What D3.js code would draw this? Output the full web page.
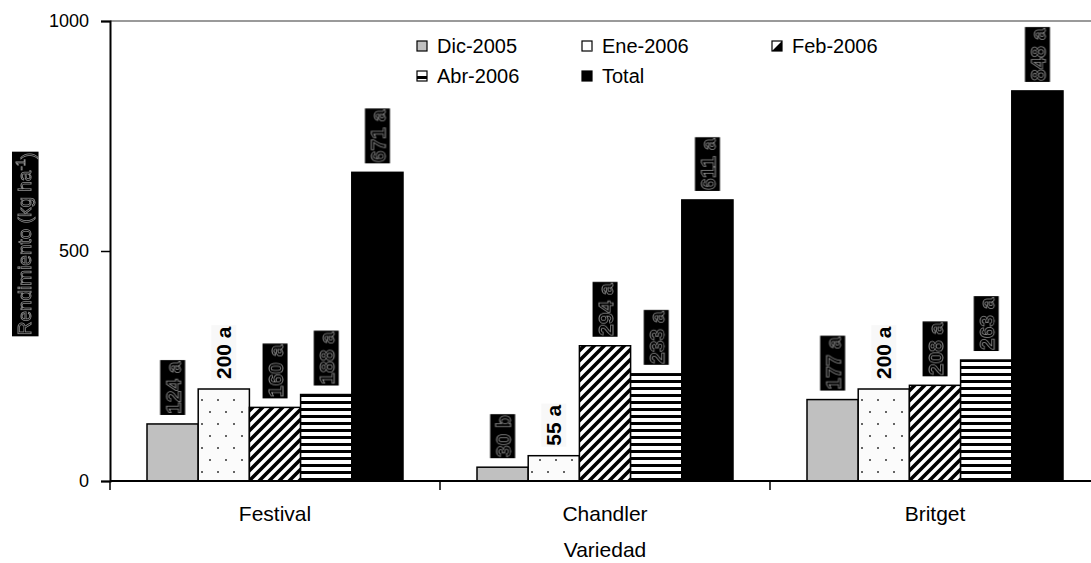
<!DOCTYPE html>
<html>
<head>
<meta charset="utf-8">
<script src="https://cdn.jsdelivr.net/npm/d3@7"></script>
<style>
  html, body { margin: 0; padding: 0; background: #fff; }
  svg { display: block; }
  text { font-family: "Liberation Sans", Arial, sans-serif; }
</style>
</head>
<body>
<svg id="chart" width="1091" height="563"></svg>
<script>
// Yield per variety and harvest month
const varieties = ["Festival", "Chandler", "Britget"];
const seriesNames = ["Dic-2005", "Ene-2006", "Feb-2006", "Abr-2006", "Total"];
const dic2005 = [124, 30, 177];
const ene2006 = [200, 55, 200];
const feb2006 = [160, 294, 208];
const abr2006 = [188, 233, 263];
const total = [671, 611, 848];
const dic2005Letters = ["a", "b", "a"];
const ene2006Letters = ["a", "a", "a"];
const feb2006Letters = ["a", "a", "a"];
const abr2006Letters = ["a", "a", "a"];
const totalLetters = ["a", "a", "a"];
const yTicks = [0, 500, 1000];

const seriesValues = [dic2005, ene2006, feb2006, abr2006, total];
const seriesLetters = [dic2005Letters, ene2006Letters, feb2006Letters, abr2006Letters, totalLetters];
const plainLabelSeries = ["Ene-2006"];

const svg = d3.select("#chart");
const defs = svg.append("defs");

// Greyscale filter for outlined labels
defs.append("filter").attr("id", "grey")
  .append("feColorMatrix").attr("type", "saturate").attr("values", 0);

// Fill patterns
const dots = defs.append("pattern").attr("id", "p-dots")
  .attr("patternUnits", "userSpaceOnUse").attr("width", 16).attr("height", 24);
dots.append("rect").attr("width", 16).attr("height", 24).attr("fill", "#fbfbfb");
dots.append("circle").attr("cx", 4).attr("cy", 4).attr("r", 1).attr("fill", "#333");
dots.append("circle").attr("cx", 12).attr("cy", 16).attr("r", 1).attr("fill", "#333");

const diag = defs.append("pattern").attr("id", "p-diag")
  .attr("patternUnits", "userSpaceOnUse").attr("width", 10).attr("height", 10);
diag.append("rect").attr("width", 10).attr("height", 10).attr("fill", "#fff");
diag.append("path")
  .attr("d", "M-2.5,2.5 L2.5,-2.5 M0,10 L10,0 M7.5,12.5 L12.5,7.5")
  .attr("stroke", "#000").attr("stroke-width", 3.6);

const horiz = defs.append("pattern").attr("id", "p-horiz")
  .attr("patternUnits", "userSpaceOnUse").attr("width", 8).attr("height", 7);
horiz.append("rect").attr("width", 8).attr("height", 7).attr("fill", "#fff");
horiz.append("rect").attr("y", 2).attr("width", 8).attr("height", 3).attr("fill", "#000");

const fills = {
  "Dic-2005": "#c0c0c0",
  "Ene-2006": "url(#p-dots)",
  "Feb-2006": "url(#p-diag)",
  "Abr-2006": "url(#p-horiz)",
  "Total": "#000"
};

const plotLeft = 110, plotRight = 1100, plotTop = 21, plotBottom = 481;

const x0 = d3.scaleBand().domain(varieties).range([plotLeft, plotRight]).padding(0);
const x1 = d3.scaleBand().domain(seriesNames)
  .range([37, x0.bandwidth() - 37]).padding(0);
const y = d3.scaleLinear().domain([0, 1000]).range([plotBottom, plotTop]);

// Plot frame top line
svg.append("line")
  .attr("x1", plotLeft).attr("x2", plotRight).attr("y1", y(1000)).attr("y2", y(1000))
  .attr("stroke", "#9a9a9a").attr("stroke-width", 2);

// Bars
const groups = svg.append("g").selectAll("g")
  .data(varieties).join("g")
  .attr("transform", d => `translate(${x0(d)},0)`);

groups.each(function(v, vi) {
  const g = d3.select(this);
  seriesNames.forEach((s, si) => {
    const val = seriesValues[si][vi];
    g.append("rect")
      .attr("x", x1(s))
      .attr("y", y(val))
      .attr("width", x1.bandwidth())
      .attr("height", y(0) - y(val))
      .attr("fill", fills[s])
      .attr("stroke", "#000")
      .attr("stroke-width", 1.5);
  });
});

// Value labels, rotated above each bar
groups.each(function(v, vi) {
  const g = d3.select(this);
  seriesNames.forEach((s, si) => {
    const val = seriesValues[si][vi];
    const label = `${val} ${seriesLetters[si][vi]}`;
    const cx = x1(s) + x1.bandwidth() / 2;
    const by = y(val) - 10;
    const plain = plainLabelSeries.includes(s);
    const lg = g.append("g")
      .attr("transform", `translate(${cx},${by}) rotate(-90)`)
      .attr("filter", plain ? null : "url(#grey)");
    const bg = lg.append("rect");
    const t = lg.append("text")
      .attr("x", 0).attr("y", 0)
      .attr("dy", "0.36em")
      .attr("text-anchor", "start")
      .attr("font-size", 21)
      .attr("font-weight", "bold")
      .text(label);
    if (plain) {
      t.attr("fill", "#000");
    } else {
      t.attr("fill", "#000").attr("stroke", "#8a8a8a").attr("stroke-width", 0.8);
    }
    const bb = t.node().getBBox();
    bg.attr("x", bb.x - 1).attr("y", bb.y - 1)
      .attr("width", bb.width + 2).attr("height", bb.height + 2)
      .attr("fill", plain ? "#f8f8f8" : "#000");
  });
});

// Y axis
const yAxis = svg.append("g")
  .attr("transform", `translate(${plotLeft},0)`)
  .call(d3.axisLeft(y).tickValues(yTicks).tickFormat(d3.format("d")).tickSize(9).tickPadding(12));
yAxis.select(".domain").attr("stroke", "#000").attr("stroke-width", 2);
yAxis.selectAll(".tick line").attr("stroke", "#000").attr("stroke-width", 1.5);
yAxis.selectAll(".tick text")
  .attr("font-family", "Liberation Sans, Arial, sans-serif")
  .attr("font-size", 18).attr("fill", "#000");

// X axis with ticks at group boundaries
const xAxisG = svg.append("g").attr("transform", `translate(0,${plotBottom})`);
xAxisG.append("line")
  .attr("x1", plotLeft).attr("x2", plotRight).attr("y1", 0).attr("y2", 0)
  .attr("stroke", "#000").attr("stroke-width", 2);
const boundaries = varieties.map(d => x0(d)).concat([x0(varieties[varieties.length - 1]) + x0.bandwidth()]);
xAxisG.selectAll("line.tk").data(boundaries).join("line")
  .attr("class", "tk")
  .attr("x1", d => d).attr("x2", d => d).attr("y1", 0).attr("y2", 9)
  .attr("stroke", "#000").attr("stroke-width", 1.5);
xAxisG.selectAll("text.cat").data(varieties).join("text")
  .attr("class", "cat")
  .attr("x", d => x0(d) + x0.bandwidth() / 2)
  .attr("y", 40)
  .attr("text-anchor", "middle")
  .attr("font-size", 21)
  .attr("fill", "#000")
  .text(d => d);

// Axis titles
svg.append("text")
  .attr("x", x0("Chandler") + x0.bandwidth() / 2)
  .attr("y", 557)
  .attr("text-anchor", "middle")
  .attr("font-size", 21)
  .attr("fill", "#000")
  .text("Variedad");

const yTitle = svg.append("g")
  .attr("transform", "translate(24,244) rotate(-90)")
  .attr("filter", "url(#grey)");
const yTitleBg = yTitle.append("rect");
const yTitleText = yTitle.append("text")
  .attr("text-anchor", "middle")
  .attr("dy", "0.36em")
  .attr("font-size", 19)
  .attr("fill", "#000")
  .attr("stroke", "#8a8a8a")
  .attr("stroke-width", 0.8);
yTitleText.append("tspan").text("Rendimiento (kg ha");
yTitleText.append("tspan").attr("dy", "-0.45em").attr("font-size", 13).text("-1");
yTitleText.append("tspan").attr("dy", "0.45em").text(")");
const ytb = yTitleText.node().getBBox();
yTitleBg.attr("x", ytb.x - 1).attr("y", ytb.y - 1)
  .attr("width", ytb.width + 2).attr("height", ytb.height + 2)
  .attr("fill", "#000");

// Legend
const legendPos = [
  [417, 46], [582, 46], [772, 46],
  [417, 76], [582, 76]
];
const legend = svg.append("g");
seriesNames.forEach((s, i) => {
  const [lx, ly] = legendPos[i];
  const key = legend.append("g").attr("transform", `translate(${lx},${ly - 5})`);
  if (s === "Dic-2005" || s === "Total") {
    key.append("rect").attr("width", 10).attr("height", 10)
      .attr("fill", fills[s]).attr("stroke", "#000").attr("stroke-width", 1.2);
  } else {
    key.append("rect").attr("width", 10).attr("height", 10)
      .attr("fill", "#fff").attr("stroke", "#000").attr("stroke-width", 1.2);
    if (s === "Feb-2006") {
      key.append("path").attr("d", "M10,0 L10,10 L0,10 Z").attr("fill", "#000");
    } else if (s === "Abr-2006") {
      key.append("rect").attr("y", 5).attr("width", 10).attr("height", 3).attr("fill", "#000");
    } else {
      key.append("path").attr("d", "M2,10 L10,10 L10,2").attr("fill", "none")
        .attr("stroke", "#666").attr("stroke-width", 1);
    }
  }
  legend.append("text")
    .attr("x", lx + 20).attr("y", ly)
    .attr("dy", "0.36em")
    .attr("font-size", 20)
    .attr("fill", "#000")
    .text(s);
});
</script>
</body>
</html>
